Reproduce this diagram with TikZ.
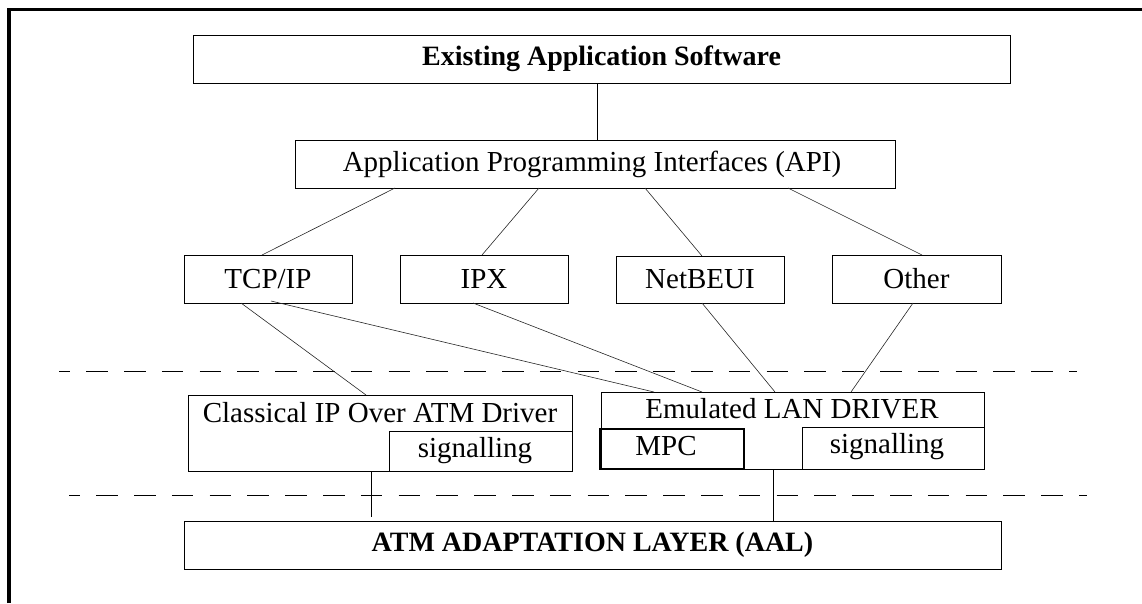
\documentclass[tikz,border=0pt]{standalone}
\usepackage{fontspec}
\setmainfont{Liberation Serif}
\begin{document}
\begin{tikzpicture}[x=1pt,y=-1pt,
  box/.style={draw,line width=1pt,inner sep=0pt,outer sep=0pt},
  txt/.style={inner sep=0pt,font=\fontsize{29}{33}\selectfont},
  btxt/.style={inner sep=0pt,font=\fontsize{28}{32}\selectfont\bfseries},
  conn/.style={line width=0.6pt,black!85},
  sep/.style={line width=1pt,dash pattern=on 21.6pt off 16.2pt,dash phase=10.6pt},
  frame/.style={line width=3.6pt}]
\useasboundingbox (0,0) rectangle (1142,603);
\draw[frame] (9,603) -- (9,9.5) -- (1142,9.5);

\node[box,minimum width=817pt,minimum height=48pt] (exist) at (601.5,59) {};
\node[btxt] (existt) at (exist) {Existing Application Software};
\node[box,minimum width=600pt,minimum height=48pt] (api) at (595,164) {};
\node[txt] (apit) at (592,164) {Application Programming Interfaces (API)};

\node[box,minimum width=168pt,minimum height=48pt] (tcp) at (268,279) {};
\node[txt] (tcpt) at (tcp) {TCP/IP};
\node[box,minimum width=168pt,minimum height=48pt] (ipx) at (484,279) {};
\node[txt] (ipxt) at (ipx) {IPX};
\node[box,minimum width=168pt,minimum height=47pt] (net) at (700,279.5) {};
\node[txt] (nett) at (net) {NetBEUI};
\node[box,minimum width=169pt,minimum height=48pt] (oth) at (916.5,279) {};
\node[txt] (otht) at (oth) {Other};

\draw[sep] (59,371) coordinate (s1a) -- (1077,371) coordinate (s1b);
\draw[sep] (69,495) coordinate (s2a) -- (1087,495) coordinate (s2b);

\node[box,minimum width=384pt,minimum height=76pt] (cl) at (380,433) {};
\node[txt,anchor=base] (clt) at (380,422) {Classical IP Over ATM Driver};
\node[box,minimum width=183pt,minimum height=40pt] (cls) at (480.5,451) {};
\node[txt] (clst) at (475,451) {signalling};

\node[box,minimum width=383pt,minimum height=77pt] (el) at (792.5,430.5) {};
\node[txt,anchor=base] (elt) at (792,418) {Emulated LAN DRIVER};
\node[box,line width=1.7pt,minimum width=144pt,minimum height=40pt] (mpc) at (672,449) {};
\node[txt,anchor=base] (mpct) at (666,455) {MPC};
\node[box,minimum width=182pt,minimum height=42pt] (els) at (893,448) {};
\node[txt] (elst) at (887,447) {signalling};

\node[box,minimum width=817pt,minimum height=48pt] (aal) at (592.5,545) {};
\node[btxt] (aalt) at (aal) {ATM ADAPTATION LAYER (AAL)};

\draw[line width=1pt] ([xshift=-4.5pt]exist.south) -- ([xshift=2pt]api.north);
\draw[conn] ([xshift=-200pt]api.south) -- ([xshift=-6pt]tcp.north);
\draw[conn] ([xshift=-56pt]api.south) -- ([xshift=-2pt]ipx.north);
\draw[conn] ([xshift=50pt]api.south) -- ([xshift=2pt]net.north);
\draw[conn] ([xshift=193pt]api.south) -- ([xshift=5.5pt]oth.north);

\draw[conn] ([xshift=-27pt]tcp.south) -- ([xshift=-14pt]cl.north);
\draw[conn] ([xshift=3pt,yshift=2pt]tcp.south) -- ([xshift=-138.5pt]el.north);
\draw[conn] ([xshift=-11pt]ipx.south) -- ([xshift=-90.5pt]el.north);
\draw[conn] ([xshift=2pt]net.south) -- ([xshift=-17.5pt]el.north);
\draw[conn] ([xshift=-3.5pt]oth.south) -- ([xshift=58.5pt]el.north);

\draw[line width=1pt] ([xshift=-9pt]cl.south) -- ([xshift=-9pt,yshift=4pt]cl.south |- aal.north);
\draw[line width=1pt] ([xshift=-19.5pt]el.south) -- ([xshift=-19.5pt]el.south |- aal.north);
\end{tikzpicture}
\end{document}
